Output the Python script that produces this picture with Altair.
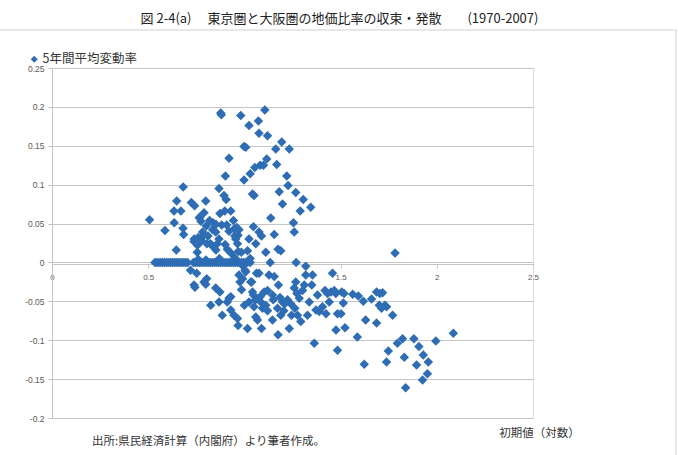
import altair as alt
import pandas as pd

# ---------------- data ----------------
series_name = "5年間平均変動率"
title_text = "図 2-4(a)　 東京圏と大阪圏の地価比率の収束・発散　　(1970-2007)"
x_title = "初期値（対数）"
source_text = "出所:県民経済計算（内閣府）より筆者作成。"

x_ticks = [0, 0.5, 1, 1.5, 2, 2.5]
y_ticks = [0.25, 0.2, 0.15, 0.1, 0.05, 0, -0.05, -0.1, -0.15, -0.2]

# points above zero
x_upper = [0.507, 0.587, 0.634, 0.635, 0.646, 0.648, 0.670, 0.682, 0.681, 0.684,
           0.724, 0.741, 0.738, 0.755, 0.767, 0.778, 0.783, 0.790, 0.799, 0.802,
           0.811, 0.819, 0.823, 0.837, 0.851, 0.859, 0.868, 0.873, 0.877, 0.880,
           0.894, 0.898, 0.901, 0.905, 0.908, 0.911, 0.920, 0.929, 0.943, 0.946,
           0.950, 0.955, 0.960, 0.964, 0.967, 0.972, 0.981, 0.984, 0.998, 1.007,
           0.998, 1.016, 1.024, 1.024, 1.030, 1.042, 1.050, 1.047, 1.054, 1.059,
           1.073, 1.076, 1.076, 1.082, 1.089, 1.099, 1.106, 1.111, 1.116, 1.120,
           1.137, 1.155, 1.163, 1.168, 1.175, 1.181, 1.189, 1.194, 1.198, 1.220,
           1.227, 1.233, 1.255, 1.259, 1.267, 1.290, 1.306, 1.345, 1.269, 1.134,
           1.783,
           0.766, 0.774, 0.852, 0.882, 0.739, 0.760, 0.786, 0.756, 0.805, 0.830,
           0.852, 0.930, 0.968, 0.920, 0.868, 0.900, 0.835]
y_upper = [0.055, 0.041, 0.066, 0.051, 0.016, 0.079, 0.066, 0.097, 0.044, 0.036,
           0.077, 0.073, 0.027, 0.013, 0.058, 0.028, 0.039, 0.064, 0.079, 0.047,
           0.034, 0.054, 0.024, 0.051, 0.039, 0.024, 0.095, 0.063, 0.192, 0.190,
           0.086, 0.066, 0.111, 0.081, 0.048, 0.017, 0.134, 0.066, 0.054, 0.043,
           0.034, 0.030, 0.045, 0.024, 0.035, 0.042, 0.189, 0.013, 0.149, 0.148,
           0.106, 0.015, 0.176, 0.030, 0.114, 0.088, 0.086, 0.046, 0.122, 0.024,
           0.182, 0.039, 0.166, 0.125, 0.034, 0.125, 0.196, 0.013, 0.133, 0.163,
           0.057, 0.036, 0.146, 0.126, 0.017, 0.091, 0.015, 0.155, 0.075, 0.111,
           0.099, 0.146, 0.051, 0.039, 0.090, 0.066, 0.081, 0.071, 0.000, 0.000,
           0.012,
           0.057, 0.053, 0.049, 0.048, 0.030, 0.032, 0.034, 0.022, 0.024, 0.022,
           0.016, 0.012, 0.014, 0.040, 0.030, 0.023, 0.042]

# the dense row of points sitting on zero
x_zero = [0.535, 0.545, 0.555, 0.565, 0.575, 0.585, 0.595, 0.605, 0.615, 0.625,
          0.635, 0.645, 0.655, 0.665, 0.675, 0.685, 0.695, 0.705,
          0.735, 0.745, 0.755, 0.765, 0.775, 0.785, 0.795, 0.805, 0.815, 0.825,
          0.835, 0.845, 0.855, 0.865, 0.875, 0.885, 0.895, 0.905, 0.915, 0.925,
          0.935, 0.945, 0.955, 0.965, 0.975, 0.985, 0.995, 1.005, 1.015, 1.030,
          0.760, 0.800, 0.870, 0.950, 1.030, 0.990]
y_zero = [0.0, 0.0, 0.0, 0.0, 0.0, 0.0, 0.0, 0.0, 0.0, 0.0,
          0.0, 0.0, 0.0, 0.0, 0.0, 0.0, 0.0, 0.0,
          0.0, 0.0, 0.0, 0.0, 0.0, 0.0, 0.0, 0.0, 0.0, 0.0,
          0.0, 0.0, 0.0, 0.0, 0.0, 0.0, 0.0, 0.0, 0.0, 0.0,
          0.0, 0.0, 0.0, 0.0, 0.0, 0.0, 0.0, 0.0, 0.0, 0.0,
          0.004, 0.003, 0.005, 0.006, 0.005, -0.004]

# points below zero
x_lower = [0.720, 0.752, 0.738, 0.743, 0.790, 0.804, 0.799, 0.825, 0.851, 0.873,
           0.868, 0.885, 0.911, 0.920, 0.929, 0.929, 0.946, 0.964, 0.967, 0.972,
           0.977, 0.990, 1.007, 1.016, 1.024, 1.033, 1.042, 1.047, 1.050, 1.059,
           1.068, 1.076, 1.082, 1.085, 1.089, 1.094, 1.103, 1.111, 1.120, 1.128,
           1.146, 1.155, 1.146, 1.172, 1.175, 1.189, 1.198, 1.210, 1.224, 1.233,
           1.241, 1.245, 1.259, 1.262, 1.267, 1.273, 1.276, 1.285, 1.293, 1.302,
           1.311, 1.319, 1.328, 1.337, 1.354, 1.363, 1.372, 1.380, 1.389, 1.406,
           1.424, 1.432, 1.441, 1.458, 1.467, 1.476, 1.484, 1.484, 1.319,
           1.506, 1.518, 1.514, 1.502, 1.523, 1.563, 1.592, 1.618, 1.587, 1.630,
           1.623, 1.661, 1.687, 1.704, 1.718, 1.701, 1.713, 1.730, 1.739, 1.687,
           1.770, 1.748, 1.739, 1.795, 1.822, 1.831, 1.838, 1.881, 1.907, 1.930,
           1.895, 1.956, 1.951, 1.926, 1.995, 2.086,
           1.003, 1.038, 1.063, 1.177, 1.350, 1.419, 1.450, 1.475, 1.150, 1.185,
           1.058, 1.120, 1.205, 1.000, 0.985]
y_lower = [-0.010, -0.014, -0.029, -0.032, -0.025, -0.021, -0.028, -0.055, -0.033, -0.038,
           -0.051, -0.068, -0.051, -0.046, -0.044, -0.061, -0.068, -0.072, -0.081, -0.016,
           -0.025, -0.021, -0.012, -0.085, -0.051, -0.025, -0.038, -0.042, -0.057, -0.070,
           -0.074, -0.014, -0.044, -0.051, -0.085, -0.059, -0.038, -0.055, -0.036, -0.016,
           -0.042, -0.018, -0.074, -0.059, -0.093, -0.068, -0.051, -0.053, -0.048, -0.085,
           -0.053, -0.068, -0.033, -0.059, -0.025, -0.040, -0.068, -0.046, -0.076, -0.036,
           -0.029, -0.016, -0.068, -0.051, -0.016, -0.104, -0.061, -0.042, -0.063, -0.057,
           -0.066, -0.040, -0.051, -0.014, -0.036, -0.087, -0.113, -0.066, -0.005,
           -0.038, -0.040, -0.052, -0.066, -0.084, -0.041, -0.043, -0.050, -0.096, -0.074,
           -0.131, -0.047, -0.038, -0.040, -0.039, -0.055, -0.059, -0.055, -0.057, -0.078,
           -0.068, -0.114, -0.128, -0.104, -0.098, -0.122, -0.161, -0.098, -0.108, -0.119,
           -0.132, -0.128, -0.143, -0.151, -0.101, -0.091,
           -0.010, -0.025, -0.014, -0.029, -0.029, -0.036, -0.038, -0.040, -0.048, -0.045,
           -0.048, -0.062, -0.062, -0.055, -0.035]

df = pd.DataFrame({
    "初期値": x_upper + x_zero + x_lower,
    "変動率": y_upper + y_zero + y_lower,
})
df["系列"] = series_name

note_df = pd.DataFrame({"t": [source_text]})

# ---------------- styling ----------------
JP = "Noto Sans CJK JP"
NUM = "Liberation Sans"
GRID = "#c4c4c4"
BLUE = "#2e6db4"

points = alt.Chart(df).mark_point(shape="diamond", filled=True, size=90, opacity=1).encode(
    x=alt.X("初期値:Q",
            scale=alt.Scale(domain=[0, 2.5], nice=False, zero=False),
            axis=alt.Axis(values=x_ticks, labelExpr="'' + datum.value", offset=-154,
                          grid=False, tickSize=4, labelPadding=5, labelFontSize=8,
                          labelFont=NUM, labelColor="#595959", domainColor=GRID,
                          tickColor=GRID, labelFlush=False,
                          title=x_title, titleX=487, titleY=172, titleAlign="center",
                          titleBaseline="alphabetic", titleFont=JP, titleFontSize=11.5,
                          titleFontWeight="normal", titleColor="#333333")),
    y=alt.Y("変動率:Q",
            scale=alt.Scale(domain=[-0.2, 0.25], nice=False, zero=False),
            axis=alt.Axis(values=y_ticks, labelExpr="'' + datum.value", grid=True,
                          gridColor=GRID, tickSize=4, labelPadding=4, labelFontSize=8.5,
                          labelFont=NUM, labelColor="#595959", domainColor=GRID,
                          tickColor=GRID, title=None)),
    color=alt.Color("系列:N", scale=alt.Scale(range=[BLUE]),
                    legend=alt.Legend(title=None, orient="none", legendX=-24, legendY=-15,
                                      symbolType="diamond", symbolSize=50,
                                      labelFont=JP, labelFontSize=12.5,
                                      labelColor="#333333", padding=0, labelOffset=2)),
)

note = alt.Chart(note_df).mark_text(align="left", baseline="middle", font=JP,
                                    fontSize=11.5, color="#333333").encode(
    x=alt.value(40), y=alt.value(374), text="t:N")

frame_top = alt.Chart(note_df).mark_rule(color="#d0d0d0", strokeWidth=1).encode(
    x=alt.value(-52), x2=alt.value(624), y=alt.value(-38))
frame_right = alt.Chart(note_df).mark_rule(color="#d0d0d0", strokeWidth=1).encode(
    x=alt.value(624), y=alt.value(-38), y2=alt.value(395))

chart = alt.layer(frame_top, frame_right, points, note).properties(
    width=481, height=350,
    title=alt.TitleParams(title_text, font=JP, fontSize=13, fontWeight="normal",
                          color="#222222", anchor="middle", dx=47, dy=15, offset=6,
                          baseline="bottom"),
    autosize=alt.AutoSizeParams(type="none"),
    padding={"left": 52, "top": 68, "right": 145, "bottom": 37},
).configure_view(stroke=None).configure(background="white")

chart.save("out.html", embed_options={"renderer": "svg", "actions": False})
